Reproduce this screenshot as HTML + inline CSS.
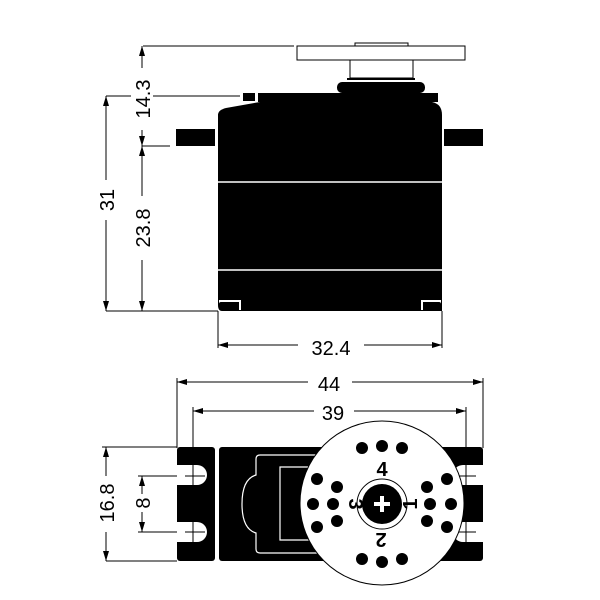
<!DOCTYPE html><html><head><style>body{margin:0;background:#fff}svg{display:block}text{font-family:"Liberation Sans",sans-serif;font-size:20px;fill:#000}</style></head><body>
<svg width="600" height="600" viewBox="0 0 600 600" xmlns="http://www.w3.org/2000/svg">
<defs><marker id="a" markerWidth="10" markerHeight="6" refX="10" refY="3" orient="auto-start-reverse" markerUnits="userSpaceOnUse"><path d="M0,0L10,3L0,6z"/></marker></defs>
<g stroke="#000" stroke-width="1" fill="none">
<line x1="143" y1="46" x2="294" y2="46"/>
<line x1="106" y1="96" x2="240" y2="96"/>
<line x1="142" y1="146" x2="170" y2="146"/>
<line x1="106" y1="311" x2="218" y2="311"/>
<line x1="106" y1="96" x2="106" y2="311" marker-start="url(#a)" marker-end="url(#a)"/>
<line x1="142" y1="46" x2="142" y2="146" marker-start="url(#a)" marker-end="url(#a)"/>
<line x1="142" y1="146" x2="142" y2="311" marker-start="url(#a)" marker-end="url(#a)"/>
<line x1="218" y1="311" x2="218" y2="348"/><line x1="442" y1="311" x2="442" y2="348"/>
<line x1="218" y1="345" x2="442" y2="345" marker-start="url(#a)" marker-end="url(#a)"/>
<rect x="297" y="46" width="168" height="14"/>
<rect x="355" y="43" width="53" height="3"/>
<rect x="350" y="60" width="63" height="18"/>
<line x1="347" y1="79" x2="415" y2="79" stroke-width="2"/>
</g>
<rect x="337" y="82" width="88" height="11" rx="5" fill="#000"/>
<rect x="243" y="93" width="12" height="8" fill="#000"/>
<rect x="258" y="93" width="180" height="9" fill="#000"/>
<path d="M226,102 L432,102 Q442,104 442,115 L442,311 L222,311 Q218,311 218,305 L218,115 Q218,110 226,108 L260,102 Z" fill="#000"/>
<line x1="218" y1="182" x2="442" y2="182" stroke="#fff" stroke-width="1.5"/>
<line x1="218" y1="270" x2="442" y2="270" stroke="#fff" stroke-width="1.5"/>
<path d="M219,300 h22 v10 h-2 v-8 h-18 q-2,0 -2,2z" fill="#fff"/>
<path d="M421,300 h20 v4 q0,-2 -2,-2 h-16 v8 h-2z" fill="#fff"/>
<rect x="176" y="129" width="39" height="17" fill="#000"/>
<rect x="444" y="129" width="39" height="17" fill="#000"/>
<rect x="298" y="335" width="66" height="20" fill="#fff"/>
<text x="331" y="355" text-anchor="middle">32.4</text>
<rect x="95" y="180" width="22" height="40" fill="#fff"/>
<text transform="translate(114,200) rotate(-90)" text-anchor="middle">31</text>
<rect x="131" y="196" width="22" height="64" fill="#fff"/>
<text transform="translate(150,228) rotate(-90)" text-anchor="middle">23.8</text>
<rect x="131" y="68" width="22" height="62" fill="#fff"/>
<text transform="translate(150,99) rotate(-90)" text-anchor="middle">14.3</text>
<g stroke="#000" stroke-width="1" fill="none">
<line x1="177" y1="378" x2="177" y2="448"/><line x1="483" y1="378" x2="483" y2="448"/>
<line x1="177" y1="382" x2="483" y2="382" marker-start="url(#a)" marker-end="url(#a)"/>
<line x1="193" y1="407" x2="193" y2="545"/><line x1="466" y1="407" x2="466" y2="545"/>
<line x1="193" y1="411" x2="466" y2="411" marker-start="url(#a)" marker-end="url(#a)"/>
<line x1="102" y1="447" x2="177" y2="447"/>
<line x1="106" y1="447" x2="106" y2="561" marker-start="url(#a)" marker-end="url(#a)"/>
<line x1="106" y1="561" x2="177" y2="561"/>
<line x1="138" y1="476" x2="200" y2="476"/><line x1="138" y1="532" x2="200" y2="532"/>
<line x1="142" y1="476" x2="142" y2="532" marker-start="url(#a)" marker-end="url(#a)"/>
</g>
<rect x="177" y="447" width="38" height="114" rx="3" fill="#000"/>
<rect x="219" y="447" width="264" height="114" rx="3" fill="#000"/>
<path d="M177,465 h20 a10,10 0 0 1 0,20 h-20z M177,522 h20 a10,10 0 0 1 0,20 h-20z M483,465 h-20 a10,10 0 0 0 0,20 h20z M483,522 h-20 a10,10 0 0 0 0,20 h20z" fill="#fff"/>
<g stroke="#000" stroke-width="1"><line x1="193" y1="465" x2="193" y2="545"/><line x1="185" y1="476" x2="205" y2="476"/><line x1="185" y1="532" x2="205" y2="532"/><line x1="466" y1="465" x2="466" y2="545"/><line x1="456" y1="476" x2="476" y2="476"/><line x1="456" y1="532" x2="476" y2="532"/></g>
<g stroke="#fff" stroke-width="1.2" fill="none">
<path d="M320,455 h-60 q-4,0 -4,4 v16 q-14,4 -14,29 q0,25 14,29 v16 q0,4 4,4 h60"/>
<path d="M320,467 h-40 v73 h40"/>
</g>
<circle cx="382" cy="503" r="82" fill="#fff" stroke="#000"/>
<g fill="#000">
<circle cx="362" cy="448" r="6"/><circle cx="382" cy="446" r="6"/><circle cx="402" cy="448" r="6"/>
<circle cx="362" cy="559" r="6"/><circle cx="382" cy="562" r="6"/><circle cx="402" cy="559" r="6"/>
<circle cx="317" cy="479" r="6"/><circle cx="313" cy="504" r="6"/><circle cx="317" cy="527" r="6"/>
<circle cx="447" cy="479" r="6"/><circle cx="451" cy="504" r="6"/><circle cx="447" cy="527" r="6"/>
<circle cx="337" cy="487" r="6"/><circle cx="333" cy="504" r="6"/><circle cx="337" cy="521" r="6"/>
<circle cx="427" cy="487" r="6"/><circle cx="430" cy="504" r="6"/><circle cx="427" cy="521" r="6"/>
</g>
<circle cx="382" cy="504" r="25" fill="#fff" stroke="#000"/>
<circle cx="382" cy="504" r="20" fill="#000"/>
<path d="M380,496h4v6h6v4h-6v6h-4v-6h-6v-4h6z" fill="#fff"/>
<g font-weight="bold" font-size="12" text-anchor="middle">
<text x="382" y="476">4</text>
<text transform="translate(381,533) rotate(180)">2</text>
<text transform="translate(349,504) rotate(90)">3</text>
<text transform="translate(417,504) rotate(-90)">1</text>
</g>
<rect x="308" y="372" width="44" height="20" fill="#fff"/>
<text x="329" y="391" text-anchor="middle">44</text>
<rect x="314" y="401" width="40" height="20" fill="#fff"/>
<text x="333" y="420" text-anchor="middle">39</text>
<rect x="95" y="476" width="22" height="56" fill="#fff"/>
<text transform="translate(114,503) rotate(-90)" text-anchor="middle">16.8</text>
<rect x="131" y="494" width="22" height="18" fill="#fff"/>
<text transform="translate(150,503) rotate(-90)" text-anchor="middle">8</text>
</svg></body></html>
